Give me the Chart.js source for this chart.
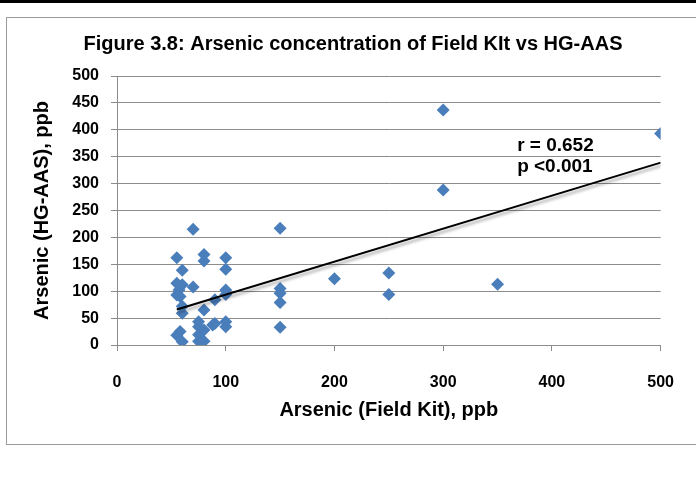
<!DOCTYPE html>
<html>
<head>
<meta charset="utf-8">
<script src="https://cdn.jsdelivr.net/npm/chart.js@4/dist/chart.umd.min.js"></script>
<style>
  html, body { margin: 0; padding: 0; background: #fff; }
  #wrap { width: 696px; height: 480px; position: relative; }
</style>
</head>
<body>
<div id="wrap"><canvas id="chart"></canvas></div>
<script>
// field kit readings (x) vs HG-AAS readings (y), ppb
const fieldKit = [55, 55, 55, 55, 57, 60, 60, 58, 60, 60, 58, 60,
  70, 70, 75, 75, 75, 75, 80, 80, 80, 80, 80, 90, 88, 90,
  100, 100, 100, 100, 100, 100, 150, 150, 150, 150, 150,
  200, 250, 250, 300, 300, 350, 500];
const hgAas = [162, 115, 93, 18, 102, 139, 112, 90, 72, 59, 25, 6,
  215, 108, 43, 34, 19, 7, 168, 156, 65, 28, 7, 84, 37, 40,
  162, 141, 102, 94, 43, 34, 217, 105, 96, 79, 33,
  123, 134, 94, 437, 288, 113, 393];

// trend line end points
const trendX = [55, 500];
const trendY = [66, 339];

const xTicks = [0, 100, 200, 300, 400, 500];
const yTicks = [0, 50, 100, 150, 200, 250, 300, 350, 400, 450, 500];

const chartTitle = 'Figure 3.8: Arsenic concentration of Field KIt vs HG-AAS';
const statLines = ['r = 0.652', 'p <0.001'];

const font = 'Liberation Sans, Arial, sans-serif';
const gridGrey = '#8c8c8c';
const blue = '#4A7EBB';

const points = fieldKit.map((x, i) => ({ x: x, y: hgAas[i] }));
const trend = trendX.map((x, i) => ({ x: x, y: trendY[i] }));

// frame round the chart, black rule at the very top, and the title
const framePlugin = {
  id: 'frame',
  beforeDraw(chart) {
    const ctx = chart.ctx;
    ctx.save();
    ctx.fillStyle = '#fff';
    ctx.fillRect(0, 0, chart.width, chart.height);
    ctx.fillStyle = '#000';
    ctx.fillRect(0, 0, chart.width, 3);
    ctx.strokeStyle = '#9a9a9a';
    ctx.lineWidth = 1;
    ctx.strokeRect(6.5, 17.5, chart.width + 10, 427);
    ctx.font = 'bold 20px ' + font;
    ctx.textAlign = 'center';
    ctx.textBaseline = 'middle';
    ctx.fillText(chartTitle, 353, 44);
    ctx.restore();
  }
};

// shadow under the trend line
const shadowPlugin = {
  id: 'trendShadow',
  beforeDatasetDraw(chart, args) {
    if (args.index !== 1) return;
    const ctx = chart.ctx;
    ctx.save();
    ctx.shadowColor = 'rgba(0,0,0,0.35)';
    ctx.shadowBlur = 3;
    ctx.shadowOffsetX = 1;
    ctx.shadowOffsetY = 3;
  },
  afterDatasetDraw(chart, args) {
    if (args.index !== 1) return;
    chart.ctx.restore();
  }
};

// r and p text next to the trend line
const statsPlugin = {
  id: 'stats',
  afterDatasetsDraw(chart) {
    const ctx = chart.ctx;
    const x = chart.scales.x.getPixelForValue(368);
    const y0 = chart.scales.y.getPixelForValue(370);
    ctx.save();
    ctx.fillStyle = '#000';
    ctx.font = 'bold 19px ' + font;
    ctx.textAlign = 'left';
    ctx.textBaseline = 'middle';
    statLines.forEach((t, i) => ctx.fillText(t, x, y0 + i * 21));
    ctx.restore();
  }
};

new Chart(document.getElementById('chart'), {
  data: {
    datasets: [
      {
        type: 'scatter',
        data: points,
        pointStyle: 'rectRot',
        pointRadius: 6.5,
        pointHoverRadius: 6.5,
        backgroundColor: blue,
        borderColor: blue,
        borderWidth: 0,
        order: 2
      },
      {
        type: 'line',
        data: trend,
        borderColor: '#000',
        borderWidth: 2,
        pointRadius: 0,
        fill: false,
        order: 1
      }
    ]
  },
  options: {
    responsive: true,
    maintainAspectRatio: false,
    animation: false,
    layout: { padding: { left: 0, right: 34, top: 76, bottom: 0 } },
    plugins: {
      legend: { display: false },
      tooltip: { enabled: false },
      title: { display: false }
    },
    scales: {
      x: {
        type: 'linear',
        min: 0,
        max: 500,
        afterBuildTicks(scale) { scale.ticks = xTicks.map(v => ({ value: v })); },
        afterFit(scale) { scale.height = 135; },
        grid: { drawOnChartArea: false, drawTicks: true, tickLength: 6, color: gridGrey },
        border: { color: gridGrey },
        ticks: {
          color: '#000',
          padding: 22,
          maxRotation: 0,
          font: { family: font, size: 16, weight: 'bold' }
        },
        title: {
          display: true,
          text: 'Arsenic (Field Kit), ppb',
          color: '#000',
          font: { family: font, size: 20, weight: 'bold', lineHeight: 1.2 },
          padding: { top: 0, bottom: 58 }
        }
      },
      y: {
        type: 'linear',
        min: 0,
        max: 500,
        afterBuildTicks(scale) { scale.ticks = yTicks.map(v => ({ value: v })); },
        afterFit(scale) { scale.width = 117; },
        grid: { drawTicks: true, tickLength: 6, color: gridGrey },
        border: { color: gridGrey },
        ticks: {
          color: '#000',
          padding: 12,
          font: { family: font, size: 16, weight: 'bold' }
        },
        title: {
          display: true,
          text: 'Arsenic (HG-AAS), ppb',
          color: '#000',
          font: { family: font, size: 20, weight: 'bold', lineHeight: 1.2 },
          padding: { top: 30, bottom: 0 }
        }
      }
    }
  },
  plugins: [framePlugin, shadowPlugin, statsPlugin]
});
</script>
</body>
</html>
